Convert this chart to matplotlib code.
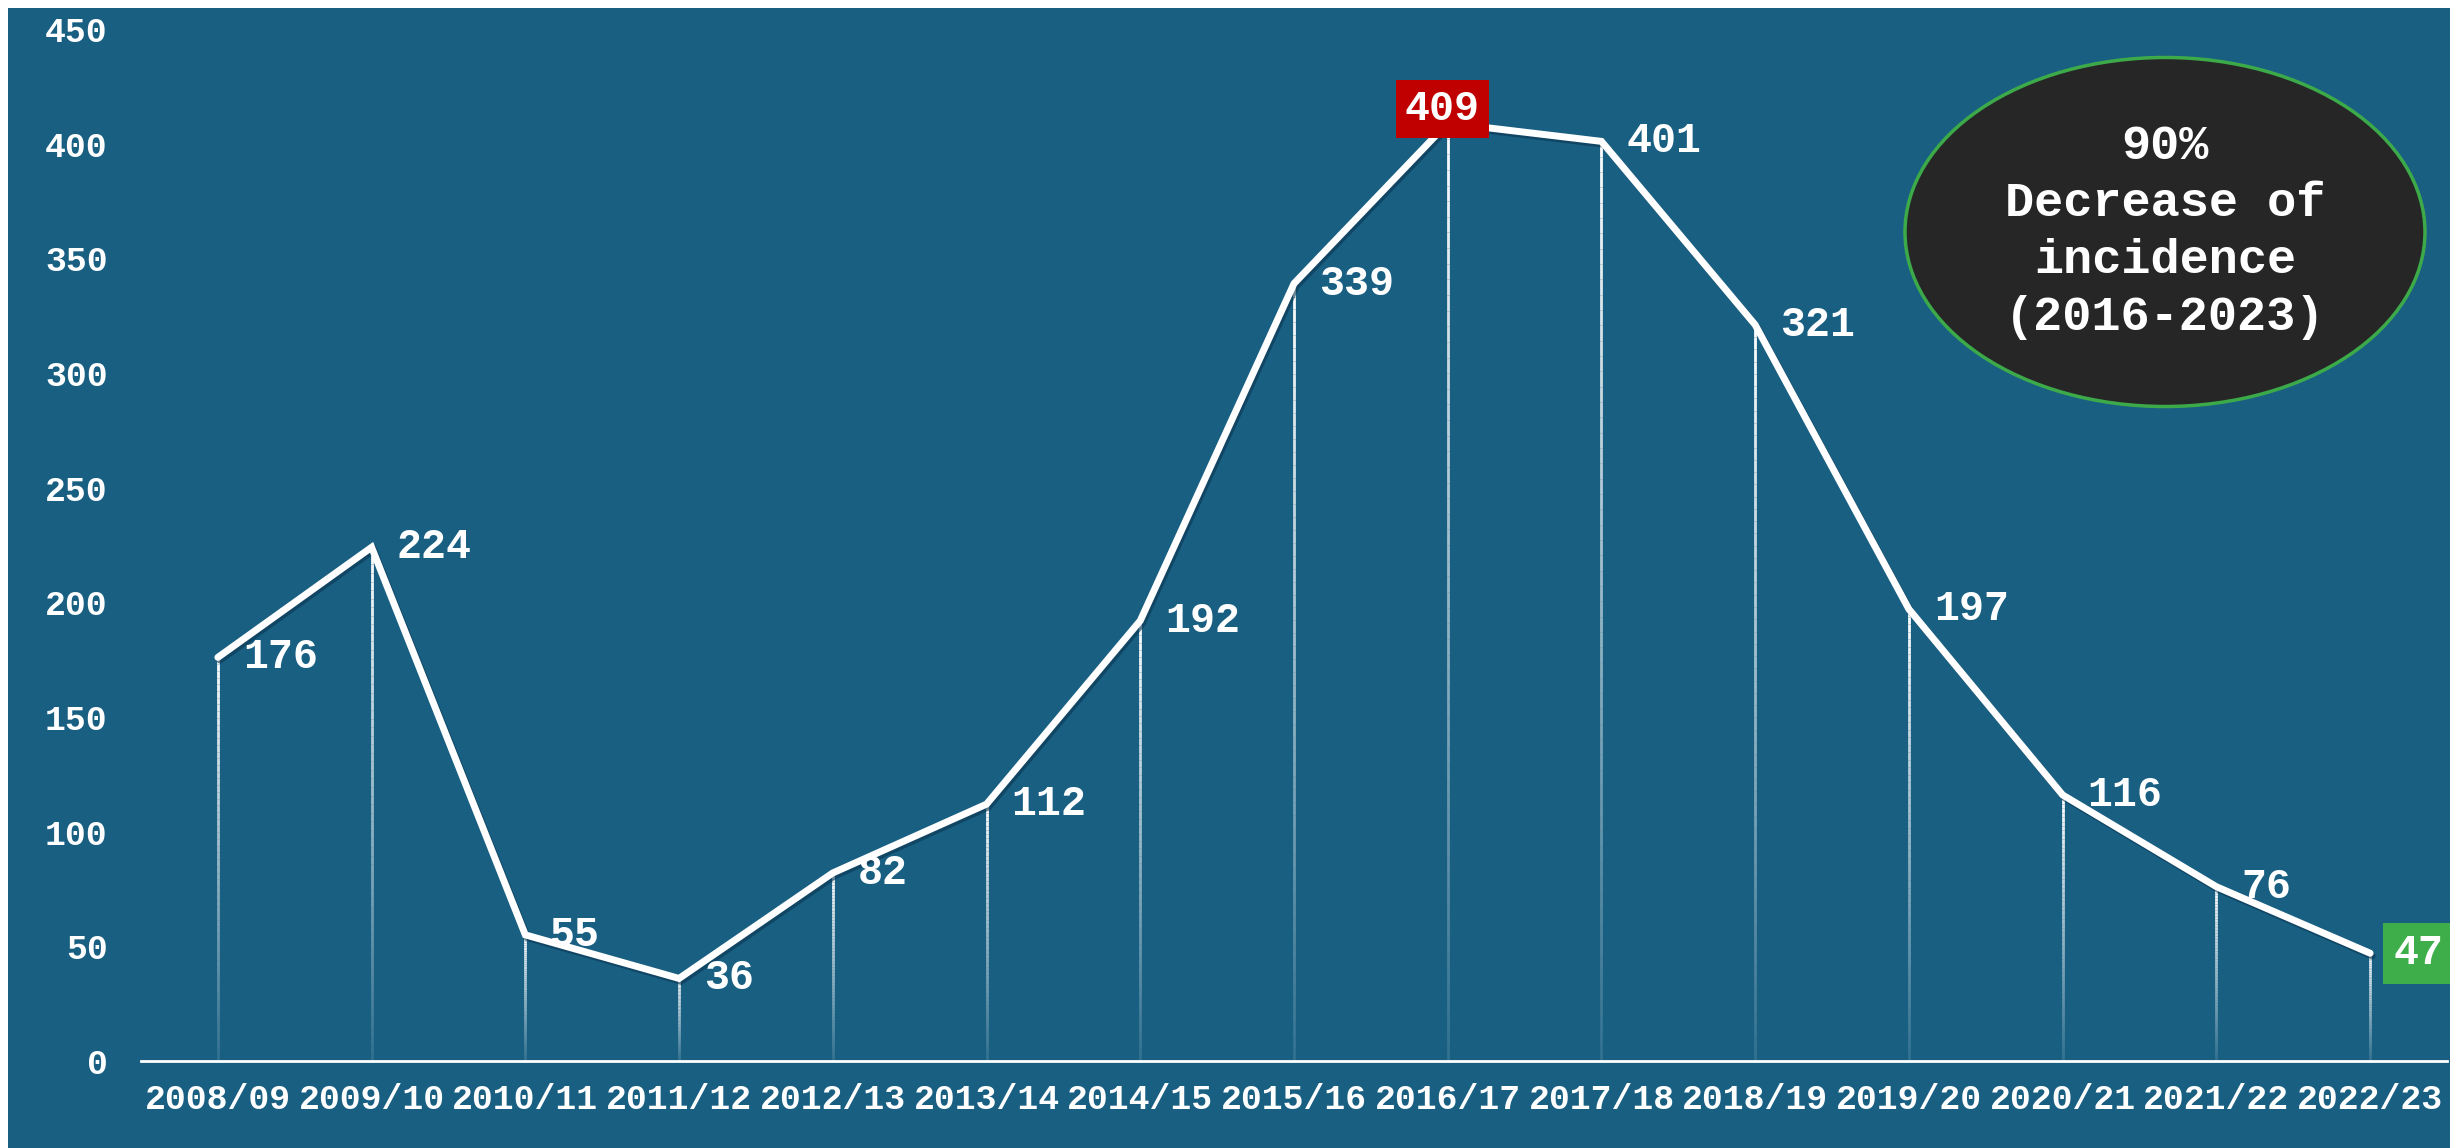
import matplotlib
matplotlib.use("Agg")
import matplotlib.pyplot as plt
import matplotlib.patheffects as pe
from matplotlib.patches import Ellipse, Rectangle
from matplotlib.collections import LineCollection
import numpy as np

seasons = ["2008/09", "2009/10", "2010/11", "2011/12", "2012/13", "2013/14", "2014/15",
           "2015/16", "2016/17", "2017/18", "2018/19", "2019/20", "2020/21", "2021/22", "2022/23"]
cases = [176, 224, 55, 36, 82, 112, 192, 339, 409, 401, 321, 197, 116, 76, 47]
peak_idx = 8
last_idx = 14
yticks = [0, 50, 100, 150, 200, 250, 300, 350, 400, 450]
note_lines = ["90%", "Decrease of", "incidence", "(2016-2023)"]

BG = "#185F82"
RED = "#C00000"
GREEN = "#3DAE49"

plt.rcParams["font.family"] = ["Liberation Mono", "DejaVu Sans Mono"]
plt.rcParams["font.weight"] = "bold"

W, H = 2450, 1148
fig = plt.figure(figsize=(W / 100, H / 100), dpi=100)
fig.patch.set_facecolor("white")
# blue page with a thin white strip on the left and top
fig.add_artist(Rectangle((8 / W, 0), 1, 1 - 8 / H, transform=fig.transFigure,
                         facecolor=BG, edgecolor="none", zorder=-10))

ax = fig.add_axes([141 / W, 87 / H, 2306 / W, 1032 / H])
ax.set_facecolor("none")
x = np.arange(len(seasons))

# fading drop lines
n = 60
segs, cols = [], []
for xi, v in zip(x, cases):
    for k in range(n):
        segs.append([(xi, v * k / n), (xi, v * (k + 1) / n)])
        cols.append((1, 1, 1, 0.1 + 0.9 * (k + 1) / n))
ax.add_collection(LineCollection(segs, colors=cols, linewidths=2, zorder=2))

ax.plot(x, cases, color="white", lw=5, solid_capstyle="round", solid_joinstyle="miter",
        zorder=3, path_effects=[pe.SimpleLineShadow(offset=(1.5, -2), shadow_color="#0b3550", alpha=0.6),
                                pe.Normal()])

for i, v in enumerate(cases):
    if i == peak_idx:
        ax.annotate(str(v), (i, v), xytext=(-4, 10), textcoords="offset points",
                    ha="center", va="center", color="white", fontsize=30,
                    bbox=dict(boxstyle="square,pad=0.22", fc=RED, ec="none"), zorder=5)
    elif i == last_idx:
        ax.annotate(str(v), (i, v), xytext=(17, 0), textcoords="offset points",
                    ha="left", va="center", color="white", fontsize=30,
                    bbox=dict(boxstyle="square,pad=0.25", fc=GREEN, ec="none"), zorder=5)
    else:
        ax.annotate(str(v), (i, v), xytext=(18, 0), textcoords="offset points",
                    ha="left", va="center", color="white", fontsize=30, zorder=5)

ax.set_xlim(-0.5, len(seasons) - 0.5)
ax.set_ylim(0, 450)
ax.set_xticks(x, seasons)
ax.set_yticks(yticks)
ax.tick_params(axis="x", length=0, pad=16, labelsize=25, labelcolor="white")
ax.tick_params(axis="y", length=0, pad=24, labelsize=25, labelcolor="white")
for s in ["top", "right", "left"]:
    ax.spines[s].set_visible(False)
ax.spines["bottom"].set_color("white")
ax.spines["bottom"].set_linewidth(2)

ax.add_patch(Ellipse((0.8777, 0.8033), 0.2255, 0.3382, transform=ax.transAxes,
                     fc="#262626", ec="#3DAA4A", lw=2.5, zorder=6))
ax.text(0.8777, 0.8033, "\n".join(note_lines), transform=ax.transAxes, ha="center",
        va="center", fontsize=35, color="white", linespacing=1.35, zorder=7)

fig.savefig("out.png", dpi=100, facecolor=fig.get_facecolor())
